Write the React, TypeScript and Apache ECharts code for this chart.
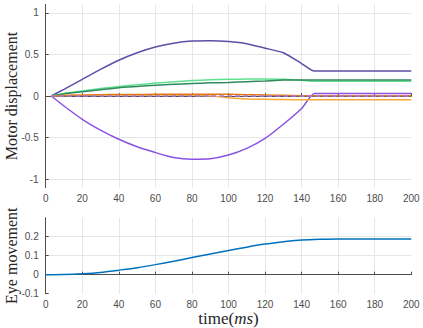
import React, { useEffect, useRef } from "react";
import * as echarts from "echarts";

const motorTime = [3, 10, 20, 30, 40, 50, 60, 70, 80, 90, 100, 110, 120, 130, 140, 147, 160, 180, 200];
const motorDarkPurple = [0, 0.08, 0.2, 0.32, 0.43, 0.52, 0.59, 0.635, 0.66, 0.665, 0.655, 0.628, 0.575, 0.52, 0.39, 0.3, 0.3, 0.3, 0.3];
const motorLightPurple = [0, -0.12, -0.28, -0.41, -0.52, -0.61, -0.68, -0.74, -0.76, -0.755, -0.71, -0.63, -0.51, -0.34, -0.15, 0.03, 0.03, 0.03, 0.03];
const motorLightGreen = [0, 0.03, 0.06, 0.09, 0.115, 0.135, 0.155, 0.17, 0.185, 0.195, 0.2, 0.205, 0.205, 0.2, 0.19, 0.176, 0.176, 0.176, 0.176];
const motorDarkGreen = [0, 0.025, 0.05, 0.075, 0.1, 0.115, 0.13, 0.14, 0.15, 0.158, 0.163, 0.172, 0.18, 0.192, 0.192, 0.193, 0.193, 0.193, 0.193];
const motorDarkOrange = [0, 0.005, 0.01, 0.015, 0.018, 0.019, 0.02, 0.021, 0.022, 0.021, 0.02, 0.016, 0.012, 0.008, 0.004, 0.002, 0.002, 0.002, 0.002];
const motorLightOrange = [0, 0.005, 0.01, 0.011, 0.012, 0.012, 0.012, 0.01, 0.008, 0.0, -0.02, -0.035, -0.04, -0.043, -0.045, -0.045, -0.045, -0.045, -0.045];
const motorZero = [0, 0, 0, 0, 0, 0, 0, 0, 0, 0, 0, 0, 0, 0, 0, 0, 0, 0, 0];

const eyeTime = [0, 10, 20, 30, 40, 50, 60, 70, 80, 90, 100, 110, 120, 130, 140, 150, 160, 170, 180, 190, 200];
const eyeMovement = [0, 0.001, 0.005, 0.012, 0.024, 0.037, 0.053, 0.071, 0.09, 0.109, 0.127, 0.145, 0.161, 0.174, 0.182, 0.186, 0.188, 0.188, 0.188, 0.188, 0.188];

const xTicks = [0, 20, 40, 60, 80, 100, 120, 140, 160, 180, 200];

const zip = (xs: number[], ys: number[]) => xs.map((x, i) => [x, ys[i]]);

export default function App() {
  const ref = useRef<HTMLDivElement>(null);
  useEffect(() => {
    if (!ref.current) return;
    const chart = echarts.init(ref.current, null, { renderer: "svg" });
    const labelStyle = { color: "#4d4d4d", fontSize: 10, fontFamily: "Liberation Sans" };
    const axisLine = { show: true, lineStyle: { color: "#4d4d4d", width: 1 } };
    const splitLine = { show: true, showMinLine: false, showMaxLine: false, lineStyle: { color: "#e6e6e6", width: 1 } };
    const tick = { show: true, inside: true, length: 3, lineStyle: { color: "#4d4d4d" } };
    const nameStyle = { fontFamily: "Liberation Serif", fontSize: 16, color: "#262626" };
    const xAxisBase = {
      type: "value" as const,
      min: xTicks[0],
      max: xTicks[xTicks.length - 1],
      interval: 20,
      axisLine,
      axisTick: tick,
      axisLabel: { ...labelStyle, margin: 6 },
      splitLine,
    };
    const line = (name: string, data: number[], color: string, extra: any = {}) => ({
      name,
      type: "line",
      xAxisIndex: 0,
      yAxisIndex: 0,
      data: zip(motorTime, data),
      showSymbol: false,
      smooth: 0.2,
      lineStyle: { color, width: 1.5, ...(extra.lineStyle || {}) },
      itemStyle: { color },
      z: extra.z || 2,
    });
    chart.setOption({
      animation: false,
      grid: [
        { left: 45.7, right: 11.7, top: 4.5, height: 183, containLabel: false, outerBoundsMode: "none" },
        { left: 45.7, right: 11.7, top: 217.7, height: 76, containLabel: false, outerBoundsMode: "none" },
      ],
      xAxis: [
        { ...xAxisBase, gridIndex: 0 },
        {
          ...xAxisBase,
          gridIndex: 1,
          name: "{a|time(}{b|ms}{a|)}",
          nameLocation: "middle",
          nameGap: 16,
          nameMoveOverlap: false,
          nameTextStyle: {
            rich: {
              a: { ...nameStyle, fontSize: 17 },
              b: { ...nameStyle, fontSize: 17, fontStyle: "italic" },
            },
          },
        },
      ],
      yAxis: [
        {
          type: "value",
          gridIndex: 0,
          min: -1.1,
          max: 1.1,
          minInterval: 0.5,
          maxInterval: 0.5,
          axisLine,
          axisTick: tick,
          axisLabel: { ...labelStyle, showMinLabel: false, showMaxLabel: false, margin: 7 },
          splitLine,
          name: "Motor displacement",
          nameLocation: "middle",
          nameGap: 26,
          nameMoveOverlap: false,
          nameTextStyle: nameStyle,
        },
        {
          type: "value",
          gridIndex: 1,
          min: -0.1,
          max: 0.3,
          interval: 0.1,
          axisLine,
          axisTick: tick,
          axisLabel: { ...labelStyle, showMaxLabel: false, margin: 7 },
          splitLine,
          name: "Eye movement",
          nameLocation: "middle",
          nameGap: 26,
          nameMoveOverlap: false,
          nameTextStyle: nameStyle,
        },
      ],
      series: [
        line("m1", motorDarkPurple, "#5e4ea8"),
        line("m2", motorLightPurple, "#8b52e0"),
        line("m3", motorLightGreen, "#5fe08f"),
        line("m4", motorDarkGreen, "#2e8a5c"),
        line("m5", motorLightOrange, "#f7aa3a"),
        line("m6", motorDarkOrange, "#e07a10"),
        {
          ...line("m7", motorZero, "#a57ae8", { z: 3 }),
          lineStyle: { color: "#a57ae8", width: 1.5, type: [5, 3] },
        },
        {
          name: "eye",
          type: "line",
          xAxisIndex: 1,
          yAxisIndex: 1,
          data: zip(eyeTime, eyeMovement),
          showSymbol: false,
          smooth: 0.3,
          lineStyle: { color: "#0072bd", width: 1.5 },
          itemStyle: { color: "#0072bd" },
        },
      ],
    });
    return () => chart.dispose();
  }, []);
  return <div ref={ref} style={{ width: 423, height: 328, position: "absolute", left: 0, top: 0 }} />;
}
